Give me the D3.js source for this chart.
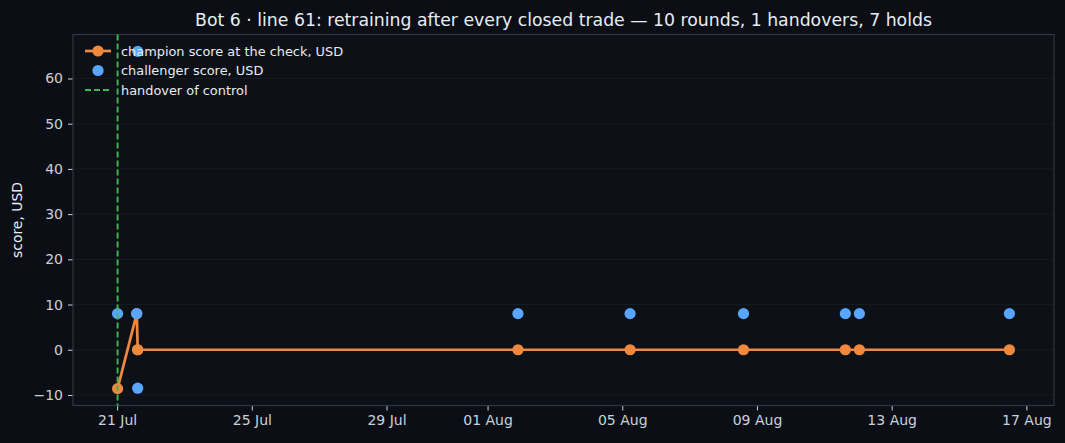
<!DOCTYPE html>
<html>
<head>
<meta charset="utf-8">
<script src="https://cdn.jsdelivr.net/npm/d3@7"></script>
<style>
	html, body { margin: 0; padding: 0; background: #0b0e14; }
	svg { display: block; font-family: "DejaVu Sans", sans-serif; }
</style>
</head>
<body>
<svg id="chart" width="1065" height="443"></svg>
<script>
(function(){
	'use strict';

	// one entry per round of the check
	var roundTimes = ['2025-07-21T00:20', '2025-07-21T14:00', '2025-07-21T14:40', '2025-07-21T14:40',
		'2025-08-01T21:40', '2025-08-05T05:35', '2025-08-08T14:25', '2025-08-11T15:00',
		'2025-08-12T01:00', '2025-08-16T11:55'];
	var championScores = [-8.6, 8, 0, 0, 0, 0, 0, 0, 0, 0];
	var challengerScores = [8, 8, -8.5, 66, 8, 8, 8, 8, 8, 8];
	var handoverTimes = ['2025-07-21T00:20'];

	var xTickLabels = ['21 Jul', '25 Jul', '29 Jul', '01 Aug', '05 Aug', '09 Aug', '13 Aug', '17 Aug'];
	var xTickDates = ['2025-07-21', '2025-07-25', '2025-07-29', '2025-08-01', '2025-08-05', '2025-08-09', '2025-08-13', '2025-08-17'];
	var yTicks = [-10, 0, 10, 20, 30, 40, 50, 60];

	var title = 'Bot 6 \u00b7 line 61: retraining after every closed trade \u2014 10 rounds, 1 handovers, 7 holds';
	var legendLabels = ['champion score at the check, USD', 'challenger score, USD', 'handover of control'];

	var colors = {
		champion: '#f0883e',
		challenger: '#58a6ff',
		handover: '#3fb950',
		text: '#e6edf3',
		tick: '#c9d1d9',
		frame: '#30363d',
		grid: '#161b22',
		face: '#0d1117'
	};

	var parse = d3.utcParse('%Y-%m-%dT%H:%M');
	var parseDay = d3.utcParse('%Y-%m-%d');
	var times = roundTimes.map(parse);

	var margin = {left: 73, right: 11, top: 34.5, bottom: 37.5};
	var W = 1065, H = 443;
	var iw = W - margin.left - margin.right;
	var ih = H - margin.top - margin.bottom;

	var svg = d3.select('#chart');
	var g = svg.append('g').attr('transform', 'translate(' + margin.left + ',' + margin.top + ')');

	// 5% padding on each side, like the reference
	function padded(ext){
		var p = (ext[1] - ext[0]) * 0.05;
		return [ext[0] - p, ext[1] + p];
	}
	var tExt = d3.extent(times).map(Number);
	var x = d3.scaleUtc().domain(padded(tExt).map(function(v){ return new Date(v); })).range([0, iw]);
	var y = d3.scaleLinear().domain(padded(d3.extent(championScores.concat(challengerScores)))).range([ih, 0]);

	g.append('rect').attr('width', iw).attr('height', ih).attr('fill', colors.face);

	// horizontal grid
	g.append('g').selectAll('line').data(yTicks).enter().append('line')
		.attr('x1', 0).attr('x2', iw)
		.attr('y1', (d) => y(d)).attr('y2', (d) => y(d))
		.attr('stroke', colors.grid).attr('stroke-width', 1);

	// axes
	var xAxis = d3.axisBottom(x)
		.tickValues(xTickDates.map(parseDay))
		.tickFormat((d, i) => xTickLabels[i])
		.tickSize(5).tickPadding(5);
	var yAxis = d3.axisLeft(y).tickValues(yTicks)
		.tickFormat((d) => d < 0 ? '\u2212' + Math.abs(d) : d)
		.tickSize(5).tickPadding(5);

	var gx = g.append('g').attr('transform', 'translate(0,' + ih + ')').call(xAxis);
	var gy = g.append('g').call(yAxis);
	[gx, gy].forEach(function(a){
		a.select('.domain').remove();
		a.selectAll('line').attr('stroke', colors.tick);
		a.selectAll('text').attr('fill', colors.tick).style('font-size', '14px').style('font-family', '"DejaVu Sans", sans-serif');
	});

	g.append('rect').attr('width', iw).attr('height', ih)
		.attr('fill', 'none').attr('stroke', colors.frame).attr('stroke-width', 1.2);

	// champion line + markers
	var champ = times.map((t, i) => ({t: t, v: championScores[i]}));
	g.append('path').datum(champ)
		.attr('fill', 'none').attr('stroke', colors.champion).attr('stroke-width', 2.7)
		.attr('stroke-linejoin', 'round')
		.attr('d', d3.line().x((d) => x(d.t)).y((d) => y(d.v)));
	g.append('g').selectAll('circle').data(champ).enter().append('circle')
		.attr('cx', (d) => x(d.t)).attr('cy', (d) => y(d.v)).attr('r', 5.6)
		.attr('fill', colors.champion);

	// challenger dots
	var chal = times.map((t, i) => ({t: t, v: challengerScores[i]}));
	g.append('g').selectAll('circle').data(chal).enter().append('circle')
		.attr('cx', (d) => x(d.t)).attr('cy', (d) => y(d.v)).attr('r', 5.6)
		.attr('fill', colors.challenger);

	// handovers
	g.append('g').selectAll('line').data(handoverTimes.map(parse)).enter().append('line')
		.attr('x1', (d) => x(d)).attr('x2', (d) => x(d))
		.attr('y1', 0).attr('y2', ih)
		.attr('stroke', colors.handover).attr('stroke-width', 1.9)
		.attr('stroke-dasharray', '6,3');

	// legend
	var lg = g.append('g').attr('transform', 'translate(12,16.5)');
	legendLabels.forEach(function(label, i){
		var row = lg.append('g').attr('transform', 'translate(0,' + (i * 19.5) + ')');
		if(i === 0){
			row.append('line').attr('x1', 0).attr('x2', 26).attr('stroke', colors.champion).attr('stroke-width', 2.7);
			row.append('circle').attr('cx', 13).attr('r', 5.6).attr('fill', colors.champion);
		} else if(i === 1){
			row.append('circle').attr('cx', 13).attr('r', 5.6).attr('fill', colors.challenger);
		} else {
			row.append('line').attr('x1', 0).attr('x2', 26).attr('stroke', colors.handover)
				.attr('stroke-width', 1.9).attr('stroke-dasharray', '6,3');
		}
		row.append('text').attr('x', 36).attr('dy', '0.35em')
			.attr('fill', colors.text).style('font-size', '12.9px').text(label);
	});

	// title and y label
	svg.append('text').attr('x', margin.left + iw / 2).attr('y', 26)
		.attr('text-anchor', 'middle').attr('fill', colors.text)
		.style('font-size', '17.3px').text(title);
	svg.append('text')
		.attr('transform', 'translate(22,' + (margin.top + ih / 2) + ') rotate(-90)')
		.attr('text-anchor', 'middle').attr('fill', colors.text)
		.style('font-size', '13.9px').text('score, USD');
})();
</script>
</body>
</html>
